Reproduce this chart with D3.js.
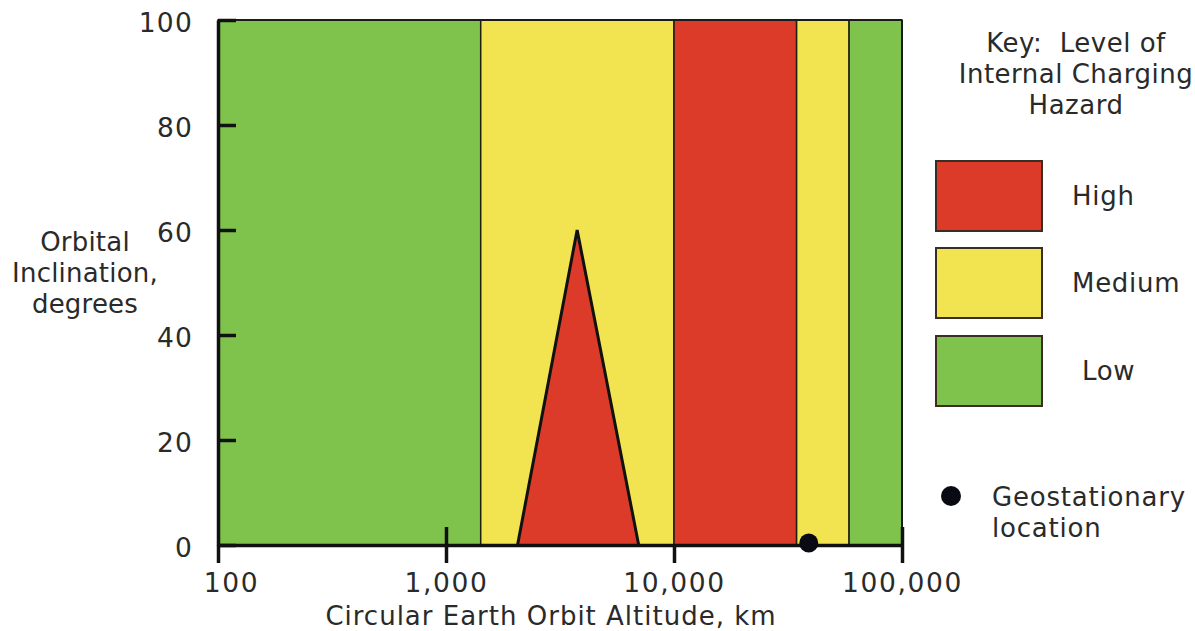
<!DOCTYPE html>
<html>
<head>
<meta charset="utf-8">
<script src="https://cdn.jsdelivr.net/npm/d3@7"></script>
<style>
  html, body { margin: 0; padding: 0; background: #fff; }
  svg { display: block; }
  text { font-family: "DejaVu Sans", Verdana, sans-serif; fill: #2a2a2a; letter-spacing: 0.7px; white-space: pre; }
</style>
</head>
<body>
<svg id="chart" width="1195" height="631"></svg>
<script>
// ---- Data ----
const bandStarts = [100, 1420, 10000, 34500, 58600];
const bandEnds   = [1420, 10000, 34500, 58600, 100000];
const bandLevels = ["Low", "Medium", "High", "Medium", "Low"];

const triangleAltitudes   = [2060, 3760, 7000];
const triangleInclinations = [0, 60, 0];
const triangleLevel = "High";

const geoAltitudes    = [39000];
const geoInclinations = [0];

const xTickValues = [100, 1000, 10000, 100000];
const xTickLabels = ["100", "1,000", "10,000", "100,000"];
const yTickValues = [0, 20, 40, 60, 80, 100];

const legendLevels = ["High", "Medium", "Low"];
const levelColors  = ["#dc3b2a", "#f1e450", "#7fc24c"];
const legendTitle  = ["Key:  Level of", "Internal Charging", "Hazard"];
const yTitleLines  = ["Orbital", "Inclination,", "degrees"];
const xTitle = "Circular Earth Orbit Altitude, km";
const geoLegendLines = ["Geostationary", "location"];

// ---- Layout ----
const svg = d3.select("#chart");
const pLeft = 218, pRight = 902, pTop = 20, pBottom = 545;
const FS = 26;

const x = d3.scaleLog().domain([100, 100000]).range([pLeft, pRight]);
const y = d3.scaleLinear().domain([0, 100]).range([pBottom, pTop]);
const color = d3.scaleOrdinal().domain(legendLevels).range(levelColors);

// Bands
const bands = bandStarts.map((s, i) => ({ s, e: bandEnds[i], level: bandLevels[i] }));
svg.append("g").selectAll("rect").data(bands).join("rect")
  .attr("x", d => x(d.s))
  .attr("y", y(100))
  .attr("width", d => x(d.e) - x(d.s))
  .attr("height", y(0) - y(100))
  .attr("fill", d => color(d.level))
  .attr("stroke", "#1e1e12")
  .attr("stroke-width", 1.5);

// Triangle
const triPts = triangleAltitudes.map((a, i) => [x(a), y(triangleInclinations[i])]);
svg.append("path")
  .attr("d", d3.line()(triPts))
  .attr("fill", color(triangleLevel))
  .attr("stroke", "#111")
  .attr("stroke-width", 3)
  .attr("stroke-linejoin", "miter");

// Frame top/right
svg.append("line").attr("x1", pLeft).attr("x2", pRight).attr("y1", pTop).attr("y2", pTop)
  .attr("stroke", "#1a1a1a").attr("stroke-width", 2);
svg.append("line").attr("x1", pRight).attr("x2", pRight).attr("y1", pTop).attr("y2", pBottom)
  .attr("stroke", "#1a1a1a").attr("stroke-width", 2);

// X axis
const xAxis = d3.axisBottom(x).tickValues(xTickValues)
  .tickFormat((d, i) => xTickLabels[i]).tickSizeInner(18).tickSizeOuter(0).tickPadding(10);
const gx = svg.append("g").attr("transform", `translate(0,${pBottom})`).call(xAxis);
gx.select(".domain").attr("stroke", "#111").attr("stroke-width", 3.5);
gx.selectAll(".tick line").attr("stroke", "#111").attr("stroke-width", 3.5)
  .attr("y1", (d) => (d === 1000 || d === 100000) ? -18 : 0);
gx.selectAll(".tick text")
  .style("font-size", "26.5px").style("font-family", '"DejaVu Sans", sans-serif')
  .style("letter-spacing", "1.6px")
  .attr("fill", "#2a2a2a")
  .attr("dx", (d, i) => i === 0 ? 13 : 0);

// Y axis
const yAxis = d3.axisLeft(y).tickValues(yTickValues).tickSizeInner(-18).tickSizeOuter(0).tickPadding(25);
const gy = svg.append("g").attr("transform", `translate(${pLeft},0)`).call(yAxis);
gy.select(".domain").attr("stroke", "#111").attr("stroke-width", 3.5);
gy.selectAll(".tick line").attr("stroke", "#111").attr("stroke-width", 3.5);
gy.selectAll(".tick text")
  .style("font-size", "26.5px").style("font-family", '"DejaVu Sans", sans-serif')
  .style("letter-spacing", "1.2px")
  .attr("fill", "#2a2a2a")
  .attr("dy", "0.42em");

// Geostationary point
svg.append("g").selectAll("circle").data(geoAltitudes).join("circle")
  .attr("cx", d => x(d)).attr("cy", (d, i) => y(geoInclinations[i]) - 2)
  .attr("r", 9.5).attr("fill", "#0a0a14");

// Axis titles
svg.append("text").attr("x", 551).attr("y", 625).attr("text-anchor", "middle")
  .style("font-size", FS + "px").style("letter-spacing", "1px").text(xTitle);
svg.append("g").selectAll("text").data(yTitleLines).join("text")
  .attr("x", 85).attr("y", (d, i) => 251 + i * 31).attr("text-anchor", "middle")
  .style("font-size", FS + "px").style("letter-spacing", "0.2px").text(d => d);

// Legend
svg.append("g").selectAll("text").data(legendTitle).join("text")
  .attr("x", 1076).attr("y", (d, i) => 52 + i * 31).attr("text-anchor", "middle")
  .style("font-size", FS + "px").style("letter-spacing", "0.5px").text(d => d);

const boxTops = [161, 248, 336];
const lg = svg.append("g").selectAll("g").data(legendLevels).join("g");
lg.append("rect")
  .attr("x", 936).attr("y", (d, i) => boxTops[i])
  .attr("width", 106).attr("height", 70)
  .attr("fill", d => color(d)).attr("stroke", "#3a2e22").attr("stroke-width", 2);
lg.append("text")
  .attr("x", (d, i) => i === 2 ? 1082 : 1072)
  .attr("y", (d, i) => boxTops[i] + 35).attr("dy", "0.35em")
  .style("font-size", FS + "px").text(d => d);

svg.append("circle").attr("cx", 951).attr("cy", 496).attr("r", 10).attr("fill", "#0a0a14");
svg.append("g").selectAll("text").data(geoLegendLines).join("text")
  .attr("x", 992).attr("y", (d, i) => 497 + i * 31).attr("dy", "0.35em")
  .style("font-size", FS + "px").style("letter-spacing", "0.8px").text(d => d);
</script>
</body>
</html>
